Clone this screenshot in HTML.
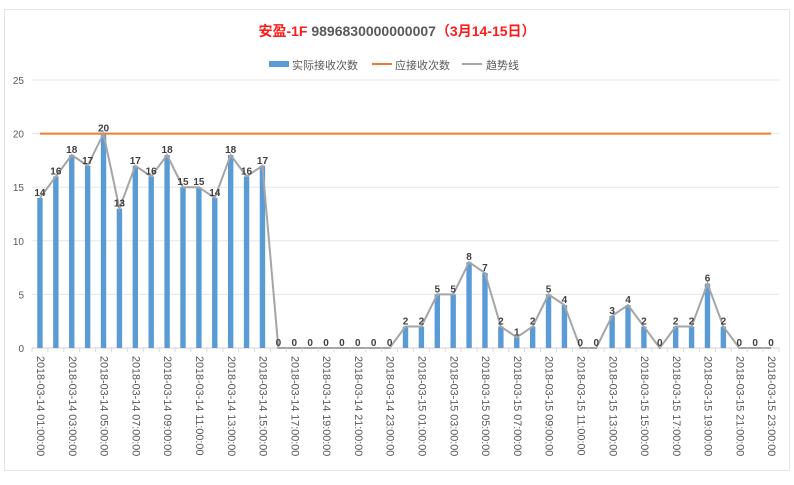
<!DOCTYPE html>
<html><head><meta charset="utf-8"><style>
body{margin:0;background:#fff;font-family:"Liberation Sans","Noto Sans CJK SC",sans-serif}
</style></head><body>
<svg id="chart" width="794" height="480" xmlns="http://www.w3.org/2000/svg" font-family="Liberation Sans, Noto Sans CJK SC, sans-serif">
<rect x="4.5" y="9.5" width="785" height="461" fill="#fff" stroke="#e4e4e4"/>
<text x="397" y="36" text-anchor="middle" font-size="14" font-weight="bold"><tspan fill="#ff1a1a">安盈-1F </tspan><tspan fill="#595959">9896830000000007</tspan><tspan fill="#ff1a1a">（3月14-15日）</tspan></text>
<g font-size="11" fill="#595959">
<rect x="269" y="61" width="20" height="6" fill="#5b9bd5"/>
<text x="292" y="69">实际接收次数</text>
<line x1="372" y1="64" x2="392" y2="64" stroke="#ed7d31" stroke-width="2"/>
<text x="395" y="69">应接收次数</text>
<line x1="462" y1="64" x2="482" y2="64" stroke="#a5a5a5" stroke-width="2"/>
<text x="486" y="69">趋势线</text>
</g>
<g id="grid"></g><g id="bars"></g><g id="lines"></g><g id="labels"></g><g id="xaxis"></g>
</svg>
<script>
const categories=[];
(function(){for(let i=0;i<47;i++){const h=1+i;const d=h<24?14:15;const hh=h%24;categories.push('2018-03-'+d+' '+String(hh).padStart(2,'0')+':00:00');}})();
const actualValues=[14,16,18,17,20,13,17,16,18,15,15,14,18,16,17,0,0,0,0,0,0,0,0,2,2,5,5,8,7,2,1,2,5,4,0,0,3,4,2,0,2,2,6,2,0,0,0];
const expectedValue=20;
const yTicks=[0,5,10,15,20,25];
const NS='http://www.w3.org/2000/svg';
const X0=32,X1=779,Y0=348,Y1=80,YMAX=25;
const bw=(X1-X0)/categories.length;
const xs=i=>X0+bw*(i+0.5);
const ys=v=>Y0-(Y0-Y1)*v/YMAX;
function mk(tag,attrs,parent){const e=document.createElementNS(NS,tag);for(const k in attrs)e.setAttribute(k,attrs[k]);document.getElementById(parent).appendChild(e);return e;}
yTicks.forEach(t=>{
 const g=mk('line',{x1:X0,x2:X1,y1:ys(t),y2:ys(t),stroke:t===0?'#d0d0d0':'#e6e6e6'},'grid');
 
 
 const l=mk('text',{x:24,y:ys(t)+4,'text-anchor':'end','font-size':'10',fill:'#595959'},'grid');
 l.textContent=t;
 
 
});
actualValues.forEach((v,i)=>{
 const r=mk('rect',{x:xs(i)-2.7,y:ys(v),width:5.4,height:Y0-ys(v),fill:'#5b9bd5'},'bars');
 
 
 const t=mk('text',{x:xs(i),y:ys(v)-2,'text-anchor':'middle','font-size':'10','font-weight':'bold',fill:'#404040'},'labels');
 t.textContent=v;
 
 
});
const exp=mk('line',{x1:xs(0),x2:xs(categories.length-1),y1:ys(expectedValue),y2:ys(expectedValue),stroke:'#ed7d31','stroke-width':2},'lines');


const tr=mk('polyline',{points:actualValues.map((v,i)=>xs(i)+','+ys(v)).join(' '),fill:'none',stroke:'#a5a5a5','stroke-width':2},'lines');


for(let i=0;i<=categories.length;i++){
 const tk=mk('line',{x1:X0+bw*i,x2:X0+bw*i,y1:Y0,y2:Y0+4,stroke:'#d9d9d9'},'xaxis');
 
 
}
categories.forEach((c,i)=>{
 if(i%2)return;
 const x=xs(i),y=356;
 const t=mk('text',{x:x,y:y,'font-size':'10.8',fill:'#595959',transform:'rotate(90 '+x+' '+y+')','dominant-baseline':'middle'},'xaxis');
 t.textContent=c;
 
 
});
</script>
</body></html>
